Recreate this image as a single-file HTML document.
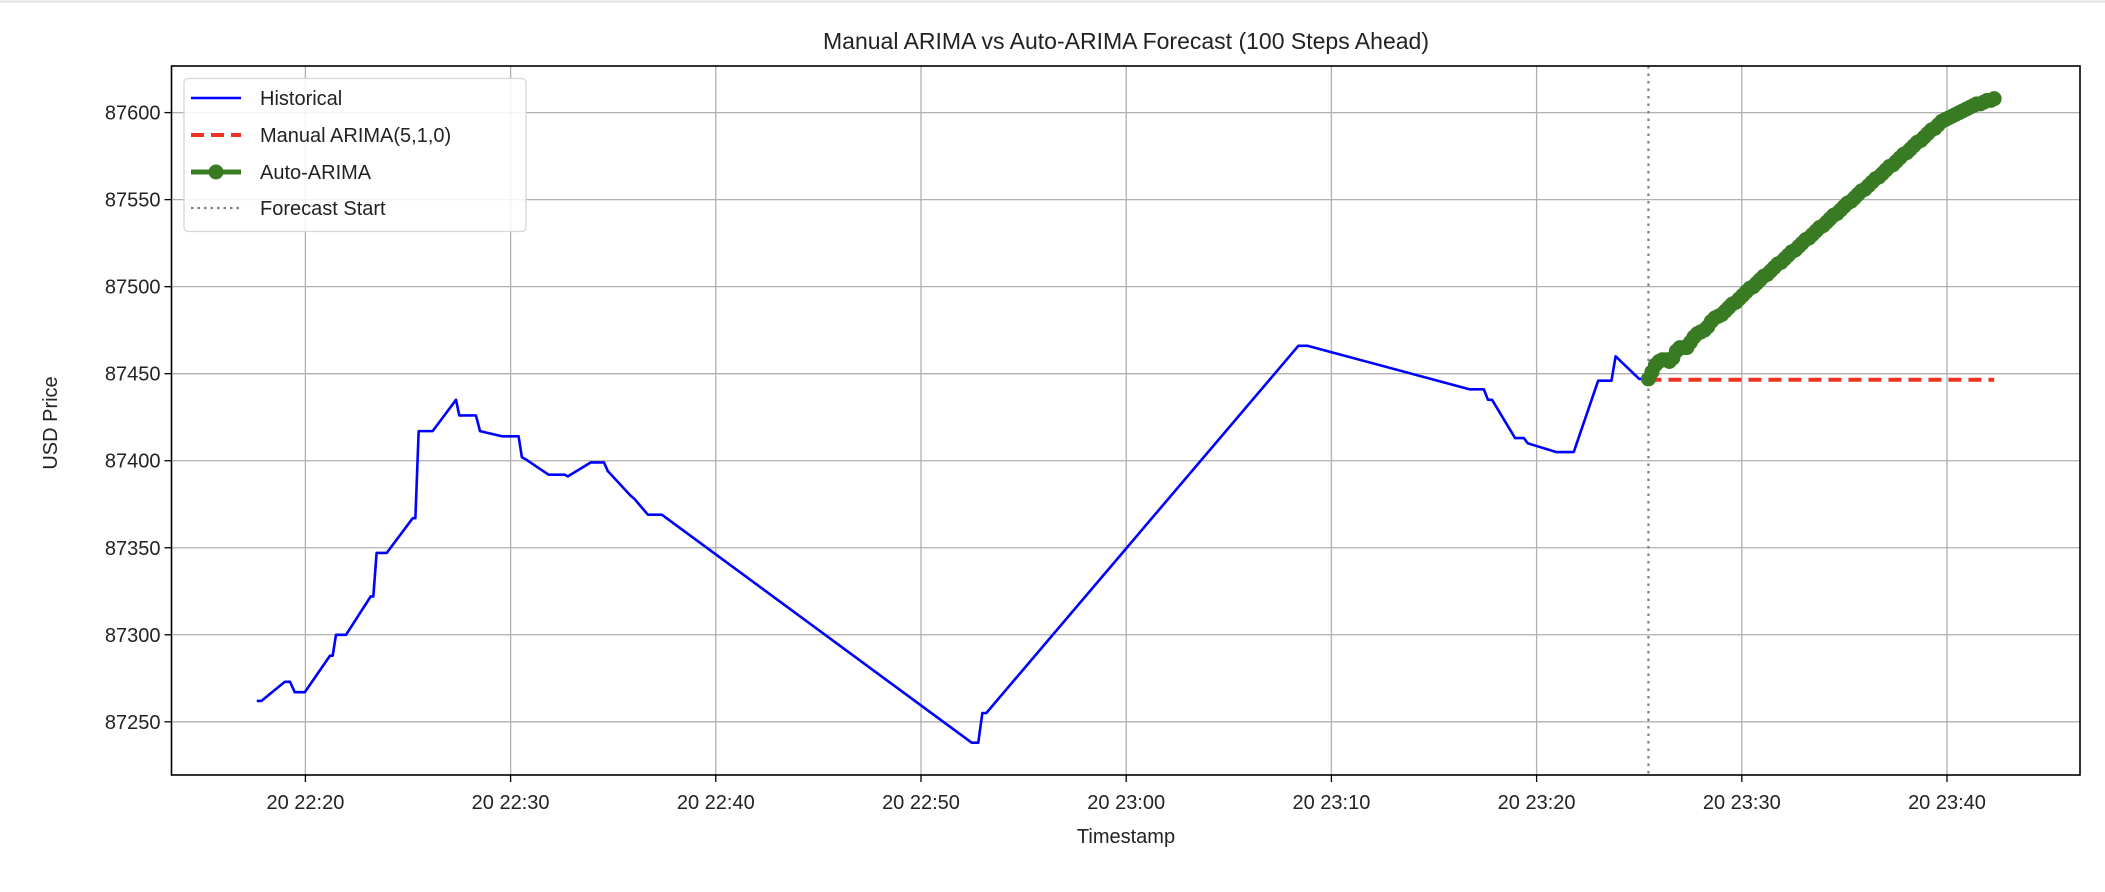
<!DOCTYPE html>
<html><head><meta charset="utf-8"><style>
html,body{margin:0;padding:0;background:#fff;}
svg{display:block;font-family:"Liberation Sans","DejaVu Sans",sans-serif;}
</style></head><body>
<svg id="chart" width="2105" height="892" viewBox="0 0 2105 892" xmlns="http://www.w3.org/2000/svg">
<line x1="0" y1="1.5" x2="2105" y2="1.5" stroke="#e2e2e2" stroke-width="2"/>
<text x="1126" y="49" text-anchor="middle" font-size="23" fill="#222">Manual ARIMA vs Auto-ARIMA Forecast (100 Steps Ahead)</text>
<g id="grid"></g>
<g id="series"></g>
<rect x="171.5" y="66" width="1908.5" height="709" fill="none" stroke="#000" stroke-width="1.6"/>
<g id="axes"></g>
<text x="1126" y="843" text-anchor="middle" font-size="20" fill="#222">Timestamp</text>
<text x="0" y="0" transform="translate(57,423) rotate(-90)" text-anchor="middle" font-size="20" fill="#222">USD Price</text>
<g>
<rect x="184" y="78.5" width="342" height="153" rx="4" fill="#fff" fill-opacity="0.85" stroke="#d6d6d6" stroke-width="1.3"/>
<g><line x1="191" y1="98" x2="241" y2="98" stroke="#0000ff" stroke-width="2.6"/><text x="260" y="105" font-size="20" fill="#222">Historical</text></g>
<g><line x1="191" y1="135" x2="241" y2="135" stroke="#ee3322" stroke-width="4" stroke-dasharray="13 7"/><text x="260" y="142" font-size="20" fill="#222">Manual ARIMA(5,1,0)</text></g>
<g><line x1="191" y1="172" x2="241" y2="172" stroke="#387b22" stroke-width="5"/><circle cx="216" cy="172" r="7.5" fill="#387b22"/><text x="260" y="179" font-size="20" fill="#222">Auto-ARIMA</text></g>
<g><line x1="191" y1="208" x2="241" y2="208" stroke="#808080" stroke-width="2.2" stroke-dasharray="2.5 4"/><text x="260" y="215" font-size="20" fill="#222">Forecast Start</text></g>
</g>
</svg>
<script>
// time in minutes after 20 22:20
const histT = [-2.37,-2.14,-1.0,-0.75,-0.52,-0.03,1.2,1.33,1.49,1.98,3.18,3.31,3.47,3.96,5.23,5.36,5.52,6.2,7.34,7.5,8.31,8.51,9.6,10.39,10.55,10.71,11.85,12.63,12.79,13.9,14.55,14.74,15.84,16.04,16.69,17.37,32.47,32.79,32.99,33.18,48.39,48.85,56.74,57.43,57.63,57.83,58.95,59.38,59.57,60.95,61.81,63.0,63.65,63.85,65.0,65.4];
const histV = [87262,87262,87273,87273,87267,87267,87288,87288,87300,87300,87322,87322,87347,87347,87367,87367,87417,87417,87435,87426,87426,87417,87414,87414,87402,87401,87392,87392,87391,87399,87399,87394,87380,87378,87369,87369,87238,87238,87255,87255,87466,87466,87441,87441,87435,87435,87413,87413,87410,87405,87405,87446,87446,87460,87447,87447];
const forecastStart = 65.45;
const forecastEnd = 82.3;
const manualV = 87446.5;
const autoV = [87447,87451,87455,87457,87458,87458,87457,87459,87463,87465,87465,87465,87468,87471,87473,87474,87475,87477,87480,87482,87483,87484,87486,87488,87490,87491,87493,87495,87497,87499,87500,87502,87504,87506,87507,87509,87511,87513,87514,87516,87518,87520,87521,87523,87525,87527,87528,87530,87532,87534,87535,87537,87539,87541,87542,87544,87546,87548,87549,87551,87553,87555,87556,87558,87560,87562,87563,87565,87567,87569,87570,87572,87574,87576,87577,87579,87581,87583,87584,87586,87588,87590,87591,87593,87595,87596,87597,87598,87599,87600,87601,87602,87603,87604,87605,87605,87606,87607,87607,87608];
const xTicks = [0,10,20,30,40,50,60,70,80];
const xTickLabels = ["20 22:20","20 22:30","20 22:40","20 22:50","20 23:00","20 23:10","20 23:20","20 23:30","20 23:40"];
const yTicks = [87250,87300,87350,87400,87450,87500,87550,87600];

const NS="http://www.w3.org/2000/svg";
const L=171.5,R=2080,T=66,B=775;
function X(t){return 305.4+t*20.52;}
function Y(v){return 112.6+(87600-v)*1.7406;}
function mk(tag,attrs,parent){const e=document.createElementNS(NS,tag);for(const k in attrs)e.setAttribute(k,attrs[k]);parent.appendChild(e);return e;}
const grid=document.getElementById('grid'),axes=document.getElementById('axes'),series=document.getElementById('series');
xTicks.forEach((t,i)=>{
  const g=mk('line',{x1:X(t),x2:X(t),y1:T,y2:B,stroke:'#b0b0b0','stroke-width':1.3},grid);
  
  
  const tk=mk('line',{x1:X(t),x2:X(t),y1:B,y2:B+7,stroke:'#000','stroke-width':1.3},axes);
  
  
  const tx=mk('text',{x:X(t),y:809,'text-anchor':'middle','font-size':20,fill:'#222'},axes);
  tx.textContent=xTickLabels[i];
  
  
});
yTicks.forEach(v=>{
  const g=mk('line',{x1:L,x2:R,y1:Y(v),y2:Y(v),stroke:'#b0b0b0','stroke-width':1.3},grid);
  
  
  const tk=mk('line',{x1:L-7,x2:L,y1:Y(v),y2:Y(v),stroke:'#000','stroke-width':1.3},axes);
  
  
  const tx=mk('text',{x:L-11,y:Y(v)+7,'text-anchor':'end','font-size':20,fill:'#222'},axes);
  tx.textContent=String(v);
  
  
});
const hp=mk('polyline',{points:histT.map((t,i)=>X(t)+','+Y(histV[i])).join(' '),fill:'none',stroke:'#0000ff','stroke-width':2.6,'stroke-linejoin':'round'},series);


const vl=mk('line',{x1:X(forecastStart),x2:X(forecastStart),y1:T,y2:B,stroke:'#808080','stroke-width':2.2,'stroke-dasharray':'2.5 5'},series);


const step=(forecastEnd-forecastStart)/(autoV.length-1);
const ml=mk('line',{x1:X(forecastStart),x2:X(forecastEnd),y1:Y(manualV),y2:Y(manualV),stroke:'#ee3322','stroke-width':4,'stroke-dasharray':'13 7'},series);


const ap=mk('polyline',{points:autoV.map((v,i)=>X(forecastStart+i*step)+','+Y(v)).join(' '),fill:'none',stroke:'#387b22','stroke-width':5},series);


autoV.forEach((v,i)=>{
  const c=mk('circle',{cx:X(forecastStart+i*step),cy:Y(v),r:7.5,fill:'#387b22'},series);
  
  
});
</script>
</body></html>
